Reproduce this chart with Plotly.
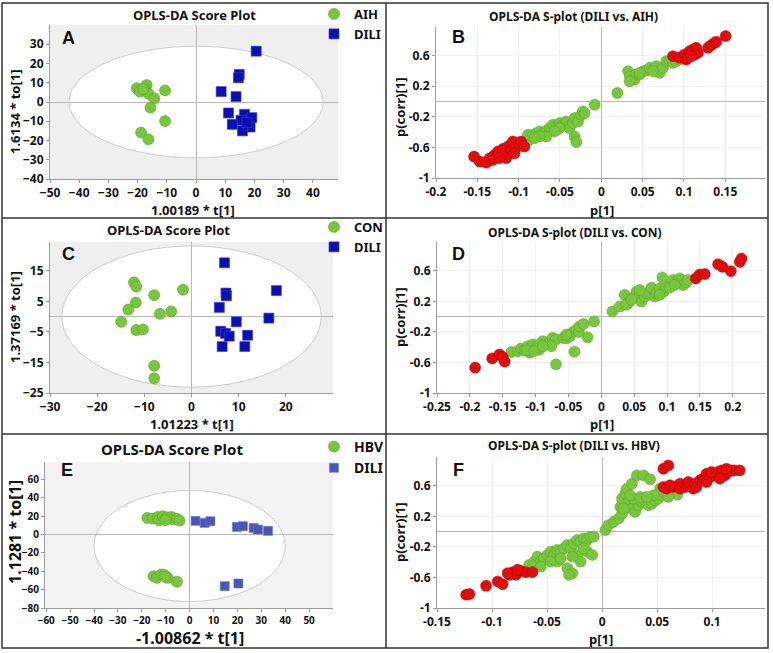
import plotly.graph_objects as go

W, H = 773, 653

# ---- A: score plot, AIH vs DILI
a_aih_t = [-20.3, -19.2, -16.9, -17.2, -16.3, -14.3, -10.6, -15.6, -10.6, -18.8, -16.3, -18.1]
a_aih_to = [7.1, 5.4, 8.8, 6.0, 4.3, 1.9, 6.0, -2.9, -9.9, -15.9, -19.4, 6.6]
a_dili_t = [20.6, 14.8, 14.5, 8.6, 13.7, 11.1, 16.6, 19.1, 15.4, 12.4, 18.5, 15.9, 17.4]
a_dili_to = [26.4, 14.3, 12.6, 5.4, 2.8, -5.7, -6.4, -8.1, -9.5, -11.6, -13.0, -15.0, -10.7]
a_ellipse = [43.5, 29.0, 0.0]  # half width, half height, centre on to[1]
a_xticks = [-50, -40, -30, -20, -10, 0, 10, 20, 30, 40]
a_yticks = [-40, -30, -20, -10, 0, 10, 20, 30]

# ---- B: S-plot, DILI vs AIH
b_green_p = [-0.0867, -0.0887, -0.0827, -0.0786, -0.0746, -0.0706, -0.0665, -0.0625, -0.0585, -0.0544,
             -0.0504, -0.0464, -0.0423, -0.0403, -0.0383, -0.0343, -0.0323, -0.0282, -0.0242, -0.0222,
             -0.0202, -0.0081, -0.0323, -0.0302, -0.0504, -0.0565, -0.0665, -0.0746, -0.0806,
             0.0194, 0.0323, 0.0343, 0.0403, 0.0423, 0.0464, 0.0504, 0.0544, 0.0585, 0.0645, 0.0665,
             0.0706, 0.0746, 0.0786, 0.0827, 0.0867, 0.0907, 0.0948, 0.0968, 0.0343, 0.0464, 0.0625]
b_green_corr = [-0.502, -0.437, -0.437, -0.415, -0.393, -0.437, -0.384, -0.349, -0.306, -0.328,
                -0.284, -0.306, -0.262, -0.328, -0.349, -0.284, -0.218, -0.262, -0.175, -0.131,
                -0.153, -0.044, -0.459, -0.533, -0.349, -0.393, -0.459, -0.459, -0.480,
                0.109, 0.393, 0.328, 0.284, 0.349, 0.349, 0.393, 0.402, 0.437, 0.437, 0.459,
                0.371, 0.437, 0.524, 0.533, 0.502, 0.524, 0.546, 0.590, 0.262, 0.371, 0.393]
b_red_p = [-0.154, -0.147, -0.139, -0.131, -0.129, -0.125, -0.121, -0.119, -0.115, -0.113,
           -0.109, -0.107, -0.103, -0.099, -0.097, -0.093, -0.115, -0.123, -0.135, -0.105,
           0.0867, 0.0948, 0.1008, 0.1028, 0.1069, 0.1109, 0.1129, 0.1149, 0.1169, 0.1290,
           0.1331, 0.1371, 0.1391, 0.1504, 0.1048, 0.1089]
b_red_corr = [-0.72, -0.786, -0.80, -0.764, -0.699, -0.655, -0.72, -0.62, -0.677, -0.59,
              -0.633, -0.524, -0.603, -0.568, -0.524, -0.59, -0.742, -0.742, -0.742, -0.677,
              0.590, 0.568, 0.611, 0.546, 0.655, 0.677, 0.611, 0.699, 0.633, 0.699,
              0.734, 0.764, 0.777, 0.852, 0.568, 0.590]
b_xticks = [-0.2, -0.15, -0.1, -0.05, 0, 0.05, 0.1, 0.15]
b_xlabels = ["-0.2", "-0.15", "-0.1", "-0.05", "0", "0.05", "0.1", "0.15"]

# ---- C: score plot, CON vs DILI
c_con_t = [-12.2, -11.7, -11.8, -13.4, -14.9, -11.7, -10.3, -7.9, -6.7, -4.3, -1.8, -7.9, -7.9]
c_con_to = [11.2, 9.8, 4.6, 2.3, -1.7, -4.4, -4.2, 7.0, 0.9, 1.7, 8.8, -16.1, -20.2]
c_dili_t = [7.0, 7.3, 7.4, 18.0, 5.9, 16.4, 9.5, 6.2, 7.2, 8.0, 11.9, 6.5, 11.3]
c_dili_to = [17.6, 7.7, 6.8, 8.5, 3.0, -0.5, -1.7, -4.8, -5.5, -6.4, -6.1, -9.8, -9.8]
c_ellipse = [27.5, 23.1, 0.0]
c_xticks = [-30, -20, -10, 0, 10, 20]
c_yticks = [-25, -15, -5, 5, 15]

# ---- D: S-plot, DILI vs CON
d_green_p = [-0.137, -0.127, -0.122, -0.117, -0.112, -0.109, -0.104, -0.099, -0.094, -0.089,
             -0.084, -0.079, -0.074, -0.069, -0.076, -0.058, -0.053, -0.048, -0.043, -0.038,
             -0.034, -0.033, -0.027, -0.011, -0.021, -0.041, -0.069, -0.094, -0.114, -0.102,
             -0.089, -0.053,
             0.0168, 0.0279, 0.0355, 0.0406, 0.0482, 0.0533, 0.0584, 0.0609, 0.0660, 0.0711,
             0.0761, 0.0812, 0.0838, 0.0888, 0.0929, 0.0949, 0.0990, 0.1041, 0.1091, 0.1168,
             0.1193, 0.1244, 0.1294, 0.1320, 0.0381, 0.0584, 0.0888, 0.1117, 0.0457]
d_green_corr = [-0.464, -0.451, -0.416, -0.442, -0.386, -0.472, -0.364, -0.407, -0.429, -0.321,
                -0.364, -0.342, -0.277, -0.299, -0.386, -0.277, -0.286, -0.256, -0.199, -0.169,
                -0.199, -0.126, -0.095, -0.061, -0.269, -0.459, -0.624, -0.364, -0.442, -0.451,
                -0.386, -0.234,
                0.069, 0.134, 0.286, 0.178, 0.243, 0.329, 0.286, 0.199, 0.264, 0.308,
                0.381, 0.264, 0.308, 0.373, 0.516, 0.329, 0.394, 0.381, 0.481, 0.459,
                0.503, 0.416, 0.451, 0.481, 0.156, 0.351, 0.286, 0.416, 0.221]
d_red_p = [-0.192, -0.166, -0.155, -0.147, -0.150,
           0.1437, 0.1497, 0.1574, 0.1777, 0.1843, 0.1970, 0.2107, 0.2132]
d_red_corr = [-0.667, -0.546, -0.494, -0.589, -0.529,
              0.503, 0.555, 0.559, 0.689, 0.654, 0.598, 0.719, 0.763]
d_xticks = [-0.25, -0.2, -0.15, -0.1, -0.05, 0, 0.05, 0.1, 0.15, 0.2]
d_xlabels = ["-0.25", "-0.2", "-0.15", "-0.1", "-0.05", "0", "0.05", "0.1", "0.15", "0.2"]

# ---- E: score plot, HBV vs DILI
e_hbv_t = [-17.7, -15.4, -13.3, -12.8, -11.2, -9.8, -9.4, -7.7, -7.0, -5.3, -4.2, -10.2,
           -15.1, -13.7, -11.9, -10.5, -9.1, -5.3, -10.1]
e_hbv_to = [18.1, 17.4, 19.2, 15.6, 19.9, 17.4, 18.8, 19.2, 16.7, 17.0, 15.2, 15.6,
            -45.3, -47.1, -43.5, -44.2, -47.1, -51.4, -46.0]
e_dili_t = [2.5, 6.3, 8.7, 19.8, 22.3, 26.8, 28.6, 32.8, 14.7, 20.4]
e_dili_to = [14.9, 12.7, 14.5, 8.3, 9.1, 7.2, 5.4, 4.0, -56.2, -53.3]
e_ellipse = [40.0, 60.5, -12.5]
e_xticks = [-60, -50, -40, -30, -20, -10, 0, 10, 20, 30, 40, 50]
e_yticks = [-80, -60, -40, -20, 0, 20, 40, 60]

# ---- F: S-plot, DILI vs HBV
f_green_p = [-0.0663, -0.0617, -0.0587, -0.0557, -0.0527, -0.0497, -0.0467, -0.0437, -0.0407, -0.0377,
             -0.0346, -0.0316, -0.0286, -0.0256, -0.0226, -0.0196, -0.0166, -0.0136, -0.0105, -0.0075,
             -0.0316, -0.0271, -0.0301, -0.0136, -0.0090, -0.0226, -0.0196, -0.0407, -0.0557, -0.0467,
             -0.0377, -0.0166, -0.0271,
             0.0030, 0.0060, 0.0105, 0.0151, 0.0181, 0.0166, 0.0181, 0.0211, 0.0226, 0.0271,
             0.0316, 0.0377, 0.0437, 0.0226, 0.0271, 0.0301, 0.0331, 0.0361, 0.0392, 0.0422,
             0.0452, 0.0482, 0.0512, 0.0542, 0.0572, 0.0617, 0.0648, 0.0684, 0.0527, 0.0286,
             0.0256, 0.0196, 0.0346, 0.0467, 0.0407, 0.0602]
f_green_corr = [-0.435, -0.391, -0.326, -0.391, -0.348, -0.304, -0.261, -0.304, -0.239, -0.261,
                -0.217, -0.174, -0.217, -0.152, -0.109, -0.130, -0.087, -0.109, -0.065, -0.065,
                -0.478, -0.543, -0.565, -0.261, -0.304, -0.304, -0.391, -0.391, -0.457, -0.391,
                -0.348, -0.217, -0.326,
                0.022, 0.087, 0.130, 0.174, 0.239, 0.326, 0.435, 0.500, 0.565, 0.630,
                0.739, 0.739, 0.687, 0.370, 0.304, 0.261, 0.348, 0.391, 0.413, 0.348,
                0.370, 0.413, 0.435, 0.478, 0.500, 0.522, 0.543, 0.487, 0.565, 0.435,
                0.478, 0.304, 0.457, 0.478, 0.457, 0.457]
f_red_p = [-0.1235, -0.1205, -0.1054, -0.0949, -0.0904, -0.0843, -0.0813, -0.0783, -0.0738, -0.0693,
           -0.0633, -0.0858, -0.0768,
           0.0557, 0.0602, 0.0557, 0.0587, 0.0648, 0.0708, 0.0753, 0.0783, 0.0828, 0.0843,
           0.0889, 0.0919, 0.0949, 0.0979, 0.1024, 0.1054, 0.1084, 0.1114, 0.1145, 0.1175,
           0.1205, 0.1250, 0.1069, 0.0949, 0.0858, 0.0708, 0.0617, 0.0994, 0.1130]
f_red_corr = [-0.826, -0.817, -0.709, -0.652, -0.687, -0.565, -0.530, -0.565, -0.513, -0.530,
              -0.530, -0.543, -0.500,
              0.826, 0.870, 0.587, 0.565, 0.587, 0.630, 0.587, 0.652, 0.565, 0.630,
              0.674, 0.696, 0.761, 0.717, 0.739, 0.783, 0.804, 0.739, 0.783, 0.804,
              0.804, 0.804, 0.696, 0.652, 0.587, 0.565, 0.609, 0.783, 0.826]
f_xticks = [-0.15, -0.1, -0.05, 0, 0.05, 0.1]
f_xlabels = ["-0.15", "-0.1", "-0.05", "0", "0.05", "0.1"]

s_yticks = [-1, -0.6, -0.2, 0.2, 0.6]
s_ylabels = ["-1", "-0.6", "-0.2", "0.2", "0.6"]

GREEN = "#78c63c"
GREEN_EDGE = "#5a9f2c"
RED = "#e00d0d"
RED_EDGE = "#b80000"
BLUE = "#0c10b0"
BLUE_E = "#4a55b4"
FONT = "Noto Sans"


def dom_x(left, right):
    return [left / W, right / W]


def dom_y(top, bottom):
    return [1 - bottom / H, 1 - top / H]


fig = go.Figure()

green_m = dict(symbol="circle", size=11, color=GREEN, line=dict(color=GREEN_EDGE, width=0.6))
s_green = dict(symbol="circle", size=11, color=GREEN, line=dict(color=GREEN_EDGE, width=0.5))
s_red = dict(symbol="circle", size=11, color=RED, line=dict(color=RED_EDGE, width=0.5))

# score plots
fig.add_scatter(x=a_aih_t, y=a_aih_to, mode="markers", name="AIH", xaxis="x", yaxis="y",
                legend="legend", marker=green_m)
fig.add_scatter(x=a_dili_t, y=a_dili_to, mode="markers", name="DILI", xaxis="x", yaxis="y",
                legend="legend", marker=dict(symbol="square", size=10, color=BLUE,
                                             line=dict(color="#3540d0", width=0.6)))
fig.add_scatter(x=c_con_t, y=c_con_to, mode="markers", name="CON", xaxis="x3", yaxis="y3",
                legend="legend2", marker=green_m)
fig.add_scatter(x=c_dili_t, y=c_dili_to, mode="markers", name="DILI", xaxis="x3", yaxis="y3",
                legend="legend2", marker=dict(symbol="square", size=10, color=BLUE,
                                              line=dict(color="#3540d0", width=0.6)))
fig.add_scatter(x=e_hbv_t, y=e_hbv_to, mode="markers", name="HBV", xaxis="x5", yaxis="y5",
                legend="legend3", marker=green_m)
fig.add_scatter(x=e_dili_t, y=e_dili_to, mode="markers", name="DILI", xaxis="x5", yaxis="y5",
                legend="legend3", marker=dict(symbol="square", size=9, color=BLUE_E,
                                              line=dict(color="#6a74c8", width=0.6)))

# S-plots
for xs, ys, m, ax in [
    (b_green_p, b_green_corr, s_green, "2"), (b_red_p, b_red_corr, s_red, "2"),
    (d_green_p, d_green_corr, s_green, "4"), (d_red_p, d_red_corr, s_red, "4"),
    (f_green_p, f_green_corr, s_green, "6"), (f_red_p, f_red_corr, s_red, "6"),
]:
    fig.add_scatter(x=xs, y=ys, mode="markers", marker=m, xaxis="x" + ax, yaxis="y" + ax,
                    showlegend=False)

tickfont = dict(family=FONT, size=12, color="#111111", weight="bold")
base = dict(showline=True, linecolor="#9c9c9c", linewidth=1, ticks="outside", ticklen=3,
            tickcolor="#9c9c9c", tickfont=tickfont, zeroline=True, zerolinecolor="#b8b8b8",
            zerolinewidth=1, showgrid=False, fixedrange=True, tickmode="array", automargin=False)
grid = dict(base, showgrid=True, gridcolor="#f1f1f1", gridwidth=1)
small = dict(base, tickfont=dict(tickfont, size=10))

layout_axes = dict(
    xaxis=dict(base, domain=dom_x(50, 338), anchor="y", range=[-50, 48.6], tickvals=a_xticks),
    yaxis=dict(base, domain=dom_y(25, 179), anchor="x", range=[-40, 40], tickvals=a_yticks),
    xaxis2=dict(grid, domain=dom_x(436, 765), anchor="y2", range=[-0.2, 0.198],
                tickvals=b_xticks, ticktext=b_xlabels),
    yaxis2=dict(grid, domain=dom_y(27, 178), anchor="x2", range=[-1, 0.97],
                tickvals=s_yticks, ticktext=s_ylabels),
    xaxis3=dict(base, domain=dom_x(50, 333), anchor="y3", range=[-30, 30], tickvals=c_xticks),
    yaxis3=dict(base, domain=dom_y(242, 393), anchor="x3", range=[-25, 24.4], tickvals=c_yticks),
    xaxis4=dict(grid, domain=dom_x(437, 765), anchor="y4", range=[-0.25, 0.249],
                tickvals=d_xticks, ticktext=d_xlabels),
    yaxis4=dict(grid, domain=dom_y(242, 393), anchor="x4", range=[-1, 0.98],
                tickvals=s_yticks, ticktext=s_ylabels),
    xaxis5=dict(small, domain=dom_x(45, 333), anchor="y5", range=[-60.5, 60], tickvals=e_xticks),
    yaxis5=dict(small, domain=dom_y(462, 608), anchor="x5", range=[-80, 79], tickvals=e_yticks),
    xaxis6=dict(grid, domain=dom_x(437, 765), anchor="y6", range=[-0.15, 0.148],
                tickvals=f_xticks, ticktext=f_xlabels),
    yaxis6=dict(grid, domain=dom_y(457, 608), anchor="x6", range=[-1, 0.98],
                tickvals=s_yticks, ticktext=s_ylabels),
)

shapes = []
# grey score-plot background with white Hotelling ellipse
for ax, ell, bg in [("", a_ellipse, "#efefef"), ("3", c_ellipse, "#efefef"), ("5", e_ellipse, "#f3f3f3")]:
    xa, ya = "x" + ax, "y" + ax
    shapes.append(dict(type="rect", xref=xa + " domain", yref=ya + " domain", x0=0, x1=1, y0=0, y1=1,
                       fillcolor=bg, line=dict(width=0), layer="below"))
    shapes.append(dict(type="circle", xref=xa, yref=ya, x0=-ell[0], x1=ell[0],
                       y0=ell[2] - ell[1], y1=ell[2] + ell[1], fillcolor="white",
                       line=dict(color="#cdcdcd", width=1), layer="below"))

# panel frames
frame = dict(color="#333333", width=1.5)
shapes.append(dict(type="rect", xref="paper", yref="paper", x0=2 / W, x1=768 / W,
                   y0=1 - 648 / H, y1=1 - 3 / H, line=frame))
shapes.append(dict(type="line", xref="paper", yref="paper", x0=386 / W, x1=386 / W,
                   y0=1 - 648 / H, y1=1 - 3 / H, line=frame))
for yy in (218, 434):
    shapes.append(dict(type="line", xref="paper", yref="paper", x0=2 / W, x1=768 / W,
                       y0=1 - yy / H, y1=1 - yy / H, line=frame))

annotations = []


def label(text, x, y, size=13, angle=0, family=FONT):
    annotations.append(dict(text=text, x=x / W, y=1 - y / H, xref="paper", yref="paper",
                            xanchor="center", yanchor="middle", showarrow=False, textangle=angle,
                            font=dict(family=family, size=size, color="#111111", weight="bold")))


label("OPLS-DA Score Plot", 195, 15, 13)
label("OPLS-DA S-plot (DILI vs. AIH)", 573, 16, 12)
label("OPLS-DA Score Plot", 168, 230, 13)
label("OPLS-DA S-plot (DILI vs. CON)", 575, 232, 12)
label("OPLS-DA Score Plot", 172, 449, 15)
label("OPLS-DA S-plot (DILI vs. HBV)", 574, 445, 12)

for txt, x, y in [("A", 68, 38), ("B", 458, 37), ("C", 68, 254), ("D", 458, 254),
                  ("E", 67, 470), ("F", 458, 470)]:
    label(txt, x, y, 18, family="Liberation Sans")

label("1.00189 * t[1]", 193, 209.5, 13)
label("1.6134 * to[1]", 15, 112, 13, -90)
label("p[1]", 602, 210, 13)
label("p(corr)[1]", 400, 107, 13, -90)
label("1.01223 * t[1]", 192, 424, 13)
label("1.37169 * to[1]", 15, 317, 13, -90)
label("p[1]", 602, 424, 13)
label("p(corr)[1]", 400, 317, 13, -90)
label("-1.00862 * t[1]", 190, 637.5, 16)
label("1.1281 * to[1]", 15, 532, 16, -90)
label("p[1]", 601, 638.5, 13)
label("p(corr)[1]", 400, 532, 13, -90)

leg = dict(xref="paper", yref="paper", xanchor="left", yanchor="top", bgcolor="rgba(0,0,0,0)",
           font=dict(family=FONT, size=13, color="#111111", weight="bold"), itemclick=False,
           itemdoubleclick=False, tracegroupgap=0)

fig.update_layout(
    width=W, height=H,
    margin=dict(l=0, r=0, t=0, b=0, autoexpand=False),
    paper_bgcolor="white",
    plot_bgcolor="white",
    showlegend=True,
    legend=dict(leg, x=314 / W, y=1 + 1 / H),
    legend2=dict(leg, x=314 / W, y=1 - 212 / H),
    legend3=dict(leg, x=314 / W, y=1 - 431 / H, font=dict(family=FONT, size=14, color="#111111", weight="bold")),
    shapes=shapes,
    annotations=annotations,
    **layout_axes,
)

# drop the browser's default page margin so the figure starts at the window corner
fig.write_html("out.html", config={"displayModeBar": False},
               post_script="document.body.style.margin='0';")
